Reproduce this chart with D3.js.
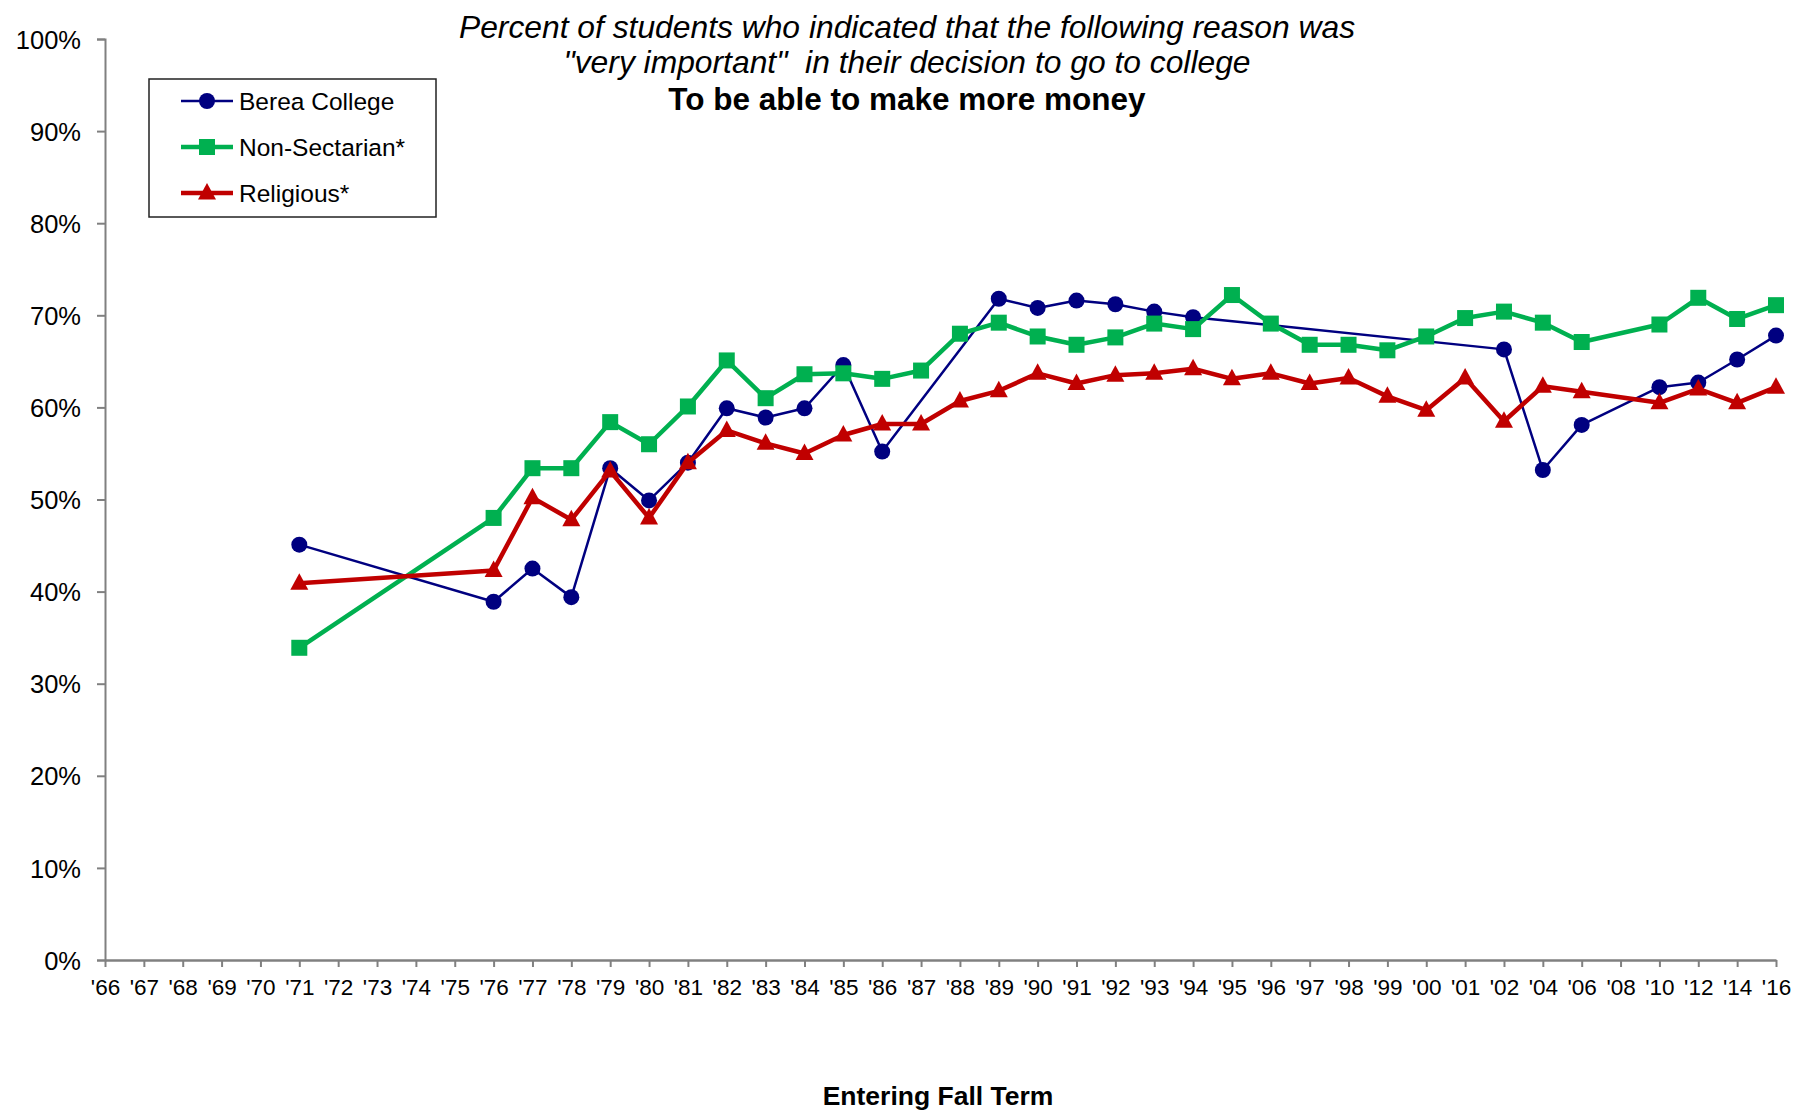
<!DOCTYPE html>
<html>
<head>
<meta charset="utf-8">
<script src="https://cdn.jsdelivr.net/npm/d3@7"></script>
<style>
  html, body { margin: 0; padding: 0; background: #fff; }
  svg text { font-family: "Liberation Sans", Arial, sans-serif; fill: #000; }
</style>
</head>
<body>
<svg id="chart" width="1800" height="1110"></svg>
<script>
// ---------- DATA ----------
const years = ["'66","'67","'68","'69","'70","'71","'72","'73","'74","'75","'76","'77","'78","'79","'80","'81","'82","'83","'84","'85","'86","'87","'88","'89","'90","'91","'92","'93","'94","'95","'96","'97","'98","'99","'00","'01","'02","'04","'06","'08","'10","'12","'14","'16"];

const berea = [null,null,null,null,null,45.1,null,null,null,null,38.9,42.5,39.4,53.4,49.9,54.0,59.9,58.9,59.9,64.6,55.2,null,null,71.8,70.8,71.6,71.2,70.4,69.8,null,null,null,null,null,null,null,66.3,53.2,58.1,null,62.2,62.7,65.2,67.8];

const nonSectarian = [null,null,null,null,null,33.9,null,null,null,null,48.0,53.4,53.4,58.4,56.0,60.1,65.1,61.0,63.6,63.7,63.1,64.0,68.0,69.2,67.7,66.8,67.6,69.1,68.5,72.2,69.1,66.8,66.8,66.2,67.7,69.7,70.4,69.2,67.1,null,69.0,71.9,69.6,71.1];

const religious = [null,null,null,null,null,40.9,null,null,null,null,42.3,50.2,47.8,53.1,48.0,54.0,57.5,56.1,55.0,57.0,58.2,58.2,60.7,61.8,63.7,62.6,63.5,63.7,64.2,63.1,63.7,62.6,63.2,61.2,59.7,63.2,58.5,62.3,61.7,null,60.5,62.0,60.5,62.2];

const yTicks = [0,10,20,30,40,50,60,70,80,90,100];
const seriesNames = ["Berea College","Non-Sectarian*","Religious*"];
const titleLines = ["Percent of students who indicated that the following reason was", "\"very important\"  in their decision to go to college", "To be able to make more money"];
const xTitle = "Entering Fall Term";

// ---------- CHART ----------
const svg = d3.select("#chart");
const x0 = 105, x1 = 1776, yTop = 39, yBot = 960;

const x = d3.scalePoint().domain(years).range([x0, x1]);
const y = d3.scaleLinear().domain([0, 100]).range([yBot, yTop]);

const axisColor = "#808080";

// Y axis
const yAxis = svg.append("g").attr("transform", `translate(${x0},0)`)
  .call(d3.axisLeft(y).tickValues(yTicks).tickSize(8).tickPadding(16).tickFormat(d => d + "%"));
yAxis.select(".domain").attr("stroke", axisColor).attr("stroke-width", 2);
yAxis.selectAll(".tick line").attr("stroke", axisColor).attr("stroke-width", 2);
yAxis.selectAll(".tick text").style("font-size", "25.5px").attr("dy", "0.36em");

// X axis
const xAxis = svg.append("g").attr("transform", `translate(0,${yBot})`)
  .call(d3.axisBottom(x).tickSize(7).tickPadding(12).tickSizeOuter(0));
xAxis.select(".domain").attr("stroke", axisColor).attr("stroke-width", 2.5);
xAxis.selectAll(".tick line").attr("stroke", axisColor).attr("stroke-width", 2);
xAxis.selectAll(".tick text").style("font-size", "22.5px").attr("dy", "0.72em");

// Series
const series = [
  { name: seriesNames[0], values: berea, color: "#000080", width: 2.5, shape: "circle" },
  { name: seriesNames[1], values: nonSectarian, color: "#00B050", width: 4.5, shape: "square" },
  { name: seriesNames[2], values: religious, color: "#C00000", width: 4.5, shape: "triangle" }
];

function marker(g, shape, color) {
  if (shape === "circle") {
    g.append("circle").attr("r", 8).attr("fill", color);
  } else if (shape === "square") {
    g.append("rect").attr("x", -8).attr("y", -8).attr("width", 16).attr("height", 16).attr("fill", color);
  } else {
    g.append("path").attr("d", "M0,-10 L9,6.5 L-9,6.5 Z").attr("fill", color);
  }
}

series.forEach(s => {
  const pts = years.map((yr, i) => ({ yr, v: s.values[i] })).filter(d => d.v !== null);
  const line = d3.line().x(d => x(d.yr)).y(d => y(d.v));
  svg.append("path").datum(pts).attr("d", line)
    .attr("fill", "none").attr("stroke", s.color).attr("stroke-width", s.width)
    .attr("stroke-linejoin", "round");
  pts.forEach(d => {
    const g = svg.append("g").attr("transform", `translate(${x(d.yr)},${y(d.v)})`);
    marker(g, s.shape, s.color);
  });
});

// Legend
const lg = svg.append("g");
lg.append("rect").attr("x", 149).attr("y", 79).attr("width", 287).attr("height", 138)
  .attr("fill", "#fff").attr("stroke", "#222").attr("stroke-width", 1.5);
series.forEach((s, i) => {
  const cy = 101 + i * 46;
  lg.append("line").attr("x1", 181).attr("x2", 233).attr("y1", cy).attr("y2", cy)
    .attr("stroke", s.color).attr("stroke-width", s.width);
  const g = lg.append("g").attr("transform", `translate(207,${cy})`);
  marker(g, s.shape, s.color);
  lg.append("text").attr("x", 239).attr("y", cy).attr("dy", "0.36em")
    .style("font-size", "24.5px").text(s.name);
});

// Titles
const cx = 907;
svg.append("text").attr("x", cx).attr("y", 38).attr("text-anchor", "middle")
  .style("font-size", "31.8px").style("font-style", "italic").text(titleLines[0]);
svg.append("text").attr("x", cx).attr("y", 73).attr("text-anchor", "middle")
  .style("font-size", "31.8px").style("font-style", "italic").attr("xml:space", "preserve")
  .style("white-space", "pre").text(titleLines[1]);
svg.append("text").attr("x", cx).attr("y", 110).attr("text-anchor", "middle")
  .style("font-size", "31.5px").style("font-weight", "bold").text(titleLines[2]);

svg.append("text").attr("x", 938).attr("y", 1105).attr("text-anchor", "middle")
  .style("font-size", "26.5px").style("font-weight", "bold").text(xTitle);
</script>
</body>
</html>
